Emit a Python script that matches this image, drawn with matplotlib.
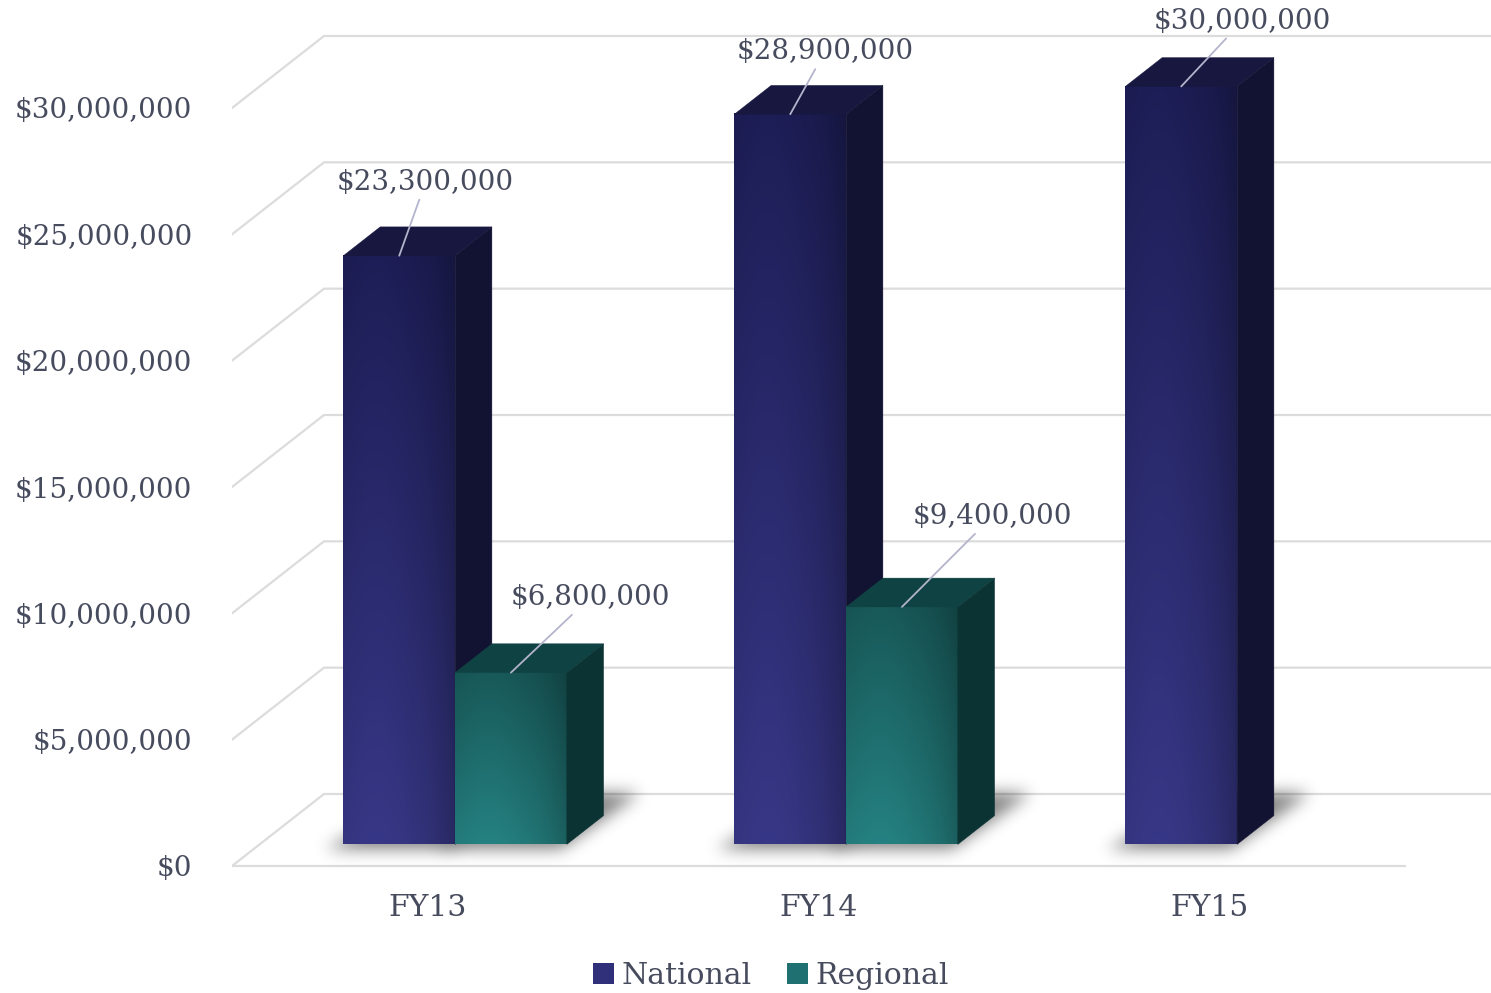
import numpy as np
import matplotlib
matplotlib.use('Agg')
import matplotlib.pyplot as plt
from matplotlib.patches import Polygon, Patch
from matplotlib.path import Path
from matplotlib.colors import to_rgb

# data

years = ['FY13', 'FY14', 'FY15']
series = ['National', 'Regional']
national = [23300000, 28900000, 30000000]
regional = [6800000, 9400000, None]
yticks = [0, 5000000, 10000000, 15000000, 20000000, 25000000, 30000000]

# label offsets (points) from the top of each bar
off_nat = [(19, 53), (25, 45), (44, 47)]
off_reg = [(57, 54), (65, 65), None]

TEXT = '#474b5e'
GRID = '#dcdcdc'
LEADER = '#b4b4cc'
plt.rcParams['font.family'] = ['DejaVu Serif']
FS_NUM = 20
FS_TXT = 21.5

# figure layout in pixels (front plane of the fake 3d box)
W, H = 1491, 993
X0, Y0 = 232, 866
PX_CAT = 391.0
PX_VAL = 758.0 / 30e6
DX = 92.0 / PX_CAT
DY = 72.0 / PX_VAL
BW = 1 / 3.5          # excel gap width 150%
D0, D1 = 0.3, 0.7     # bar depth inside the floor

fig = plt.figure(figsize=(W / 100, H / 100), dpi=100)
ax = fig.add_axes([X0 / W, 0, 1 - X0 / W, 1])


def proj(x, v, d):
    return (x + d * DX, v + d * DY)


def blur(a, s):
    r = int(3 * s) + 1
    k = np.exp(-0.5 * (np.arange(-r, r + 1) / s) ** 2)
    k /= k.sum()
    a = np.apply_along_axis(lambda m: np.convolve(m, k, mode='same'), 0, a)
    a = np.apply_along_axis(lambda m: np.convolve(m, k, mode='same'), 1, a)
    return a


def soft_shadow(pts, s=7, alpha=0.55):
    pp = np.array([(x * PX_CAT, v * PX_VAL) for x, v in pts])
    xmin, ymin = pp.min(axis=0) - 3 * s
    xmax, ymax = pp.max(axis=0) + 3 * s
    gx = np.arange(xmin, xmax, 1.0)
    gy = np.arange(ymin, ymax, 1.0)
    XX, YY = np.meshgrid(gx, gy)
    m = Path(pp).contains_points(np.c_[XX.ravel(), YY.ravel()]).reshape(XX.shape)
    a = blur(m.astype(float), s) * alpha
    img = np.zeros(a.shape + (4,))
    img[..., 3] = a
    ax.imshow(img, extent=[xmin / PX_CAT, xmax / PX_CAT, ymin / PX_VAL, ymax / PX_VAL],
              origin='lower', aspect='auto', zorder=1, interpolation='bilinear')


def draw_bar(x0, x1, v, light, dark, top, side, z):
    # shadow on the floor, stretched towards the back
    soft_shadow([proj(x0 - 0.03, 0, D0 - 0.08), proj(x1, 0, D0 - 0.08),
                 proj(x1 + 0.02, 0, D1 + 0.3), proj(x0 + 0.05, 0, D1 + 0.3)], s=8, alpha=0.5)
    fx0, fy0 = proj(x0, 0, D0)
    fx1, fy1 = proj(x1, v, D0)
    t = np.linspace(0, 1, 80)[:, None, None]
    s = np.linspace(0, 1, 80)[None, :, None]
    base = np.array(to_rgb(light)) * (1 - t) + np.array(to_rgb(dark)) * t
    horiz = 1 + 0.06 * np.sin(np.pi * np.clip(s / 0.6, 0, 1)) \
        - 0.22 * np.clip((s - 0.55) / 0.45, 0, 1) ** 1.6
    img = np.clip(base * horiz, 0, 1)
    ax.imshow(img, extent=[fx0, fx1, fy0, fy1], origin='lower', aspect='auto',
              zorder=z, interpolation='bicubic')
    ax.add_patch(Polygon([proj(x0, v, D0), proj(x1, v, D0), proj(x1, v, D1), proj(x0, v, D1)],
                         closed=True, facecolor=top, edgecolor=top, lw=0.3, zorder=z))
    ax.add_patch(Polygon([proj(x1, 0, D0), proj(x1, v, D0), proj(x1, v, D1), proj(x1, 0, D1)],
                         closed=True, facecolor=side, edgecolor=side, lw=0.3, zorder=z))
    return proj((x0 + x1) / 2, v, D0)


# back wall and floor gridlines
for v in yticks:
    a = proj(0, v, 0)
    b = proj(0, v, 1)
    c = proj(len(years) + 0.3, v, 1)
    ax.plot([a[0], b[0], c[0]], [a[1], b[1], c[1]], color=GRID, lw=1.6, zorder=0,
            solid_joinstyle='miter')
ax.plot([0, len(years)], [0, 0], color=GRID, lw=1.6, zorder=0)

# bars
for i, yr in enumerate(years):
    c = i + 0.5
    tip = draw_bar(c - BW, c, national[i], '#34347f', '#1c1c52', '#17173f', '#121233', 3)
    ax.annotate(f'${national[i]:,.0f}', xy=tip, xytext=off_nat[i], textcoords='offset points',
                ha='center', va='center', fontsize=FS_NUM, color=TEXT, zorder=10,
                arrowprops=dict(arrowstyle='-', color=LEADER, lw=1.3, shrinkA=1, shrinkB=0))
    if regional[i] is not None:
        tip = draw_bar(c, c + BW, regional[i], '#237a7a', '#175454', '#0f4242', '#0b3333', 4)
        ax.annotate(f'${regional[i]:,.0f}', xy=tip, xytext=off_reg[i], textcoords='offset points',
                    ha='center', va='center', fontsize=FS_NUM, color=TEXT, zorder=10,
                    arrowprops=dict(arrowstyle='-', color=LEADER, lw=1.3, shrinkA=1, shrinkB=0))

# axes
ax.set_xlim(0, (W - X0) / PX_CAT)
ax.set_ylim(-(H - Y0) / PX_VAL, Y0 / PX_VAL)
ax.set_yticks(yticks)
ax.set_yticklabels([f'${v:,.0f}' for v in yticks])
ax.set_xticks([i + 0.5 for i in range(len(years))])
ax.set_xticklabels(years)
ax.spines['bottom'].set_position(('data', 0))
for sp in ax.spines.values():
    sp.set_visible(False)
ax.tick_params(axis='y', length=0, pad=28.5, labelsize=FS_NUM, labelcolor=TEXT)
ax.tick_params(axis='x', length=0, pad=20.5, labelsize=FS_TXT, labelcolor=TEXT)
ax.patch.set_alpha(0)

handles = [Patch(facecolor='#2f2f7a'), Patch(facecolor='#1f7070')]
fig.legend(handles, series, loc='lower center', bbox_to_anchor=(0.517, -0.024), ncol=2,
           frameon=False, fontsize=FS_TXT, handlelength=0.7, handleheight=0.7,
           handletextpad=0.25, columnspacing=1.2, labelcolor=TEXT)

fig.savefig('out.png', dpi=100)
